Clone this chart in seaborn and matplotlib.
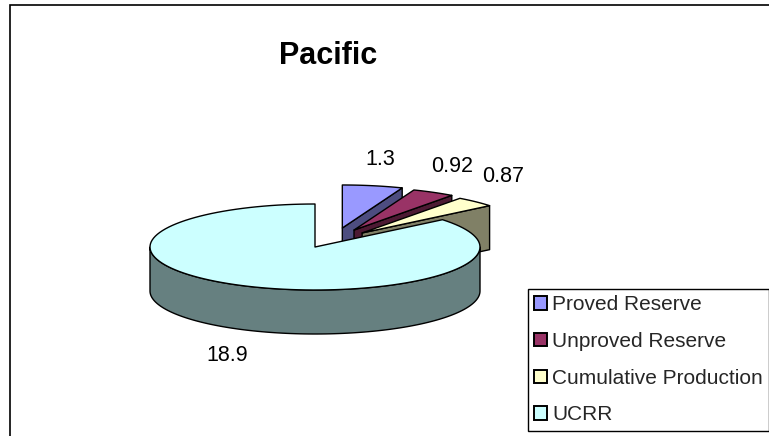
import numpy as np
import matplotlib
matplotlib.use("Agg")
import matplotlib.pyplot as plt
from matplotlib.patches import Polygon, Patch
import seaborn as sns

# Pacific resource split
categories = ["Proved Reserve", "Unproved Reserve", "Cumulative Production", "UCRR"]
values = [1.3, 0.92, 0.87, 18.9]
top_colors = ["#9999FF", "#993366", "#FFFFCC", "#CCFFFF"]
side_colors = ["#4D4D80", "#4D1A33", "#808066", "#668080"]
explode = [0.45, 0.45, 0.45, 0.0]
title = "Pacific"

sns.set_theme(style="white")
plt.rcParams["font.family"] = ["Liberation Sans", "DejaVu Sans"]

W, H = 769, 436
fig = plt.figure(figsize=(W / 100, H / 100), dpi=100)
ax = fig.add_axes([0, 0, 1, 1])
ax.set_xlim(0, W)
ax.set_ylim(H, 0)
ax.axis("off")

# tilted-disc geometry (pixel units, y grows downward)
cx, cy = 315.0, 247.0
rx, ry = 165.0, 43.0
depth = 44.0
EDGE = dict(edgecolor="black", linewidth=1.0, joinstyle="round")
TEXT_SIZE = 15.5
LEGEND_SIZE = 15.0

total = float(sum(values))


def pt(sx, sy, theta_deg, z=0.0):
    t = np.radians(theta_deg)
    return (sx + rx * np.cos(t), sy - ry * np.sin(t) + z)


def arc(sx, sy, a, b, z=0.0, n=120):
    ts = np.linspace(a, b, n)
    return [pt(sx, sy, t, z) for t in ts]


slices = []
start = 90.0
for i, v in enumerate(values):
    sweep = 360.0 * v / total
    t1, t2 = start, start - sweep          # clockwise from 12 o'clock
    tm = np.radians((t1 + t2) / 2)
    e = explode[i]
    sx = cx + e * rx * (0.53 * np.cos(tm) + 0.27)
    sy = cy - e * ry * np.sin(tm)
    slices.append(dict(i=i, t1=t1, t2=t2, tm=tm, sx=sx, sy=sy))
    start = t2

# paint back-to-front
for s in sorted(slices, key=lambda d: d["sy"]):
    i, t1, t2, sx, sy = s["i"], s["t1"], s["t2"], s["sx"], s["sy"]
    side = side_colors[i]
    # radial cut faces that face the viewer
    for t, visible in ((t2, np.cos(np.radians(t2)) > 1e-6),
                       (t1, np.cos(np.radians(t1)) < -1e-6)):
        if visible:
            p_top = pt(sx, sy, t)
            poly = [(sx, sy), p_top, (p_top[0], p_top[1] + depth), (sx, sy + depth)]
            ax.add_patch(Polygon(poly, closed=True, facecolor=side, **EDGE))
    # outer wall on the front half of the disc
    for k in range(-2, 2):
        lo, hi = -180.0 + 360 * k, 0.0 + 360 * k
        a, b = max(lo, t2), min(hi, t1)
        if b > a:
            top = arc(sx, sy, b, a)
            bot = arc(sx, sy, a, b, z=depth)
            ax.add_patch(Polygon(top + bot, closed=True, facecolor=side, **EDGE))
    # top face
    poly = [(sx, sy)] + arc(sx, sy, t1, t2)
    ax.add_patch(Polygon(poly, closed=True, facecolor=top_colors[i], **EDGE))

# value labels outside each slice
for s in slices:
    tm, sx, sy = s["tm"], s["sx"], s["sy"]
    sn = np.sin(tm)
    lx = sx + rx * 1.24 * np.cos(tm)
    ly = sy - ry * 1.07 * sn - np.sign(sn) * 23 + (depth if sn < 0 else 0)
    ax.text(lx, ly, f"{values[s['i']]:g}", ha="center", va="center",
            fontsize=TEXT_SIZE, color="black")

ax.text(328, 56, title, ha="center", va="center", fontsize=22,
        fontweight="bold", color="black")

# chart-area border
ax.plot([10, 10, W + 10], [H + 10, 5, 5], color="black", lw=1.2,
        solid_joinstyle="miter")

handles = [Patch(facecolor=c, edgecolor="black", linewidth=1.4) for c in top_colors]
leg = ax.legend(handles, categories, loc="upper left",
                bbox_to_anchor=(528 / W, 1 - 289 / H), bbox_transform=ax.transAxes,
                fontsize=LEGEND_SIZE, frameon=True, fancybox=False, shadow=False,
                framealpha=1, edgecolor="black", borderpad=0.3, borderaxespad=0,
                handlelength=0.62, handleheight=0.62, handletextpad=0.25,
                labelspacing=0.85)
leg.get_frame().set_linewidth(1.0)

fig.savefig("out.png", dpi=100, facecolor="white")
